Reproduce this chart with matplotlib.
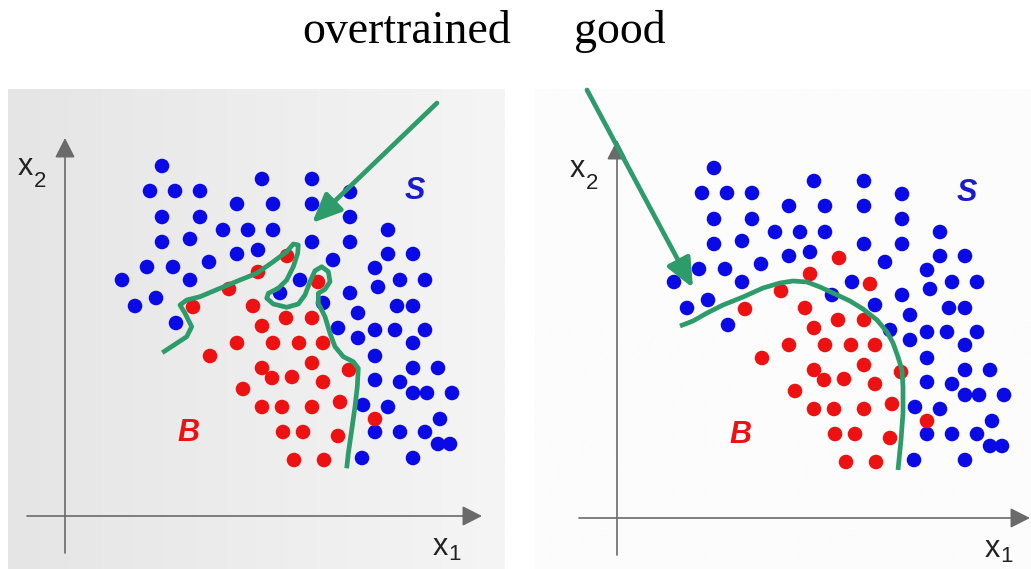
import numpy as np
import matplotlib
matplotlib.use("Agg")
import matplotlib.pyplot as plt
from matplotlib.colors import LinearSegmentedColormap

# ---- data (feature space x1, x2) ----
blue_x1 = [9.7, 19.7, 24.7, 8.5, 11.0, 13.5, 28.5, 17.2, 20.8, 24.7, 9.7, 13.5, 28.5,
           15.8, 18.3, 20.8, 32.3, 9.7, 12.5, 24.7, 28.5, 17.2, 19.3, 26.8, 32.3, 34.8,
           8.2, 10.8, 14.4, 31.0, 5.7, 12.5, 23.5, 31.3, 33.5, 36.0, 21.5, 28.5, 7.0,
           9.1, 25.8, 33.2, 34.8, 11.1, 29.3, 27.3, 31.0, 33.0, 36.0, 29.3, 34.8, 31.0,
           34.8, 37.3, 31.0, 33.5, 34.8, 36.2, 38.7, 29.8, 32.3, 37.5, 31.0, 33.5, 36.0,
           37.3, 38.5, 29.7, 34.8]
blue_x2 = [35.0, 33.7, 33.7, 32.5, 32.5, 32.5, 32.4, 31.2, 31.2, 31.2, 29.9, 29.9, 29.9,
           28.6, 28.6, 28.6, 28.6, 27.4, 27.7, 27.4, 27.4, 26.2, 26.6, 25.6, 26.2, 26.2,
           24.9, 24.9, 25.4, 24.8, 23.6, 23.6, 23.6, 22.9, 23.6, 23.6, 22.3, 22.3, 21.0,
           21.8, 21.3, 21.0, 21.0, 19.3, 20.3, 18.8, 18.6, 18.6, 18.6, 17.8, 17.3, 16.0,
           14.8, 14.8, 13.6, 13.4, 12.3, 12.3, 12.3, 11.1, 10.9, 9.7, 8.4, 8.4, 8.4,
           7.2, 7.2, 5.8, 5.8]

red_x1 = [22.2, 19.3, 25.3, 16.4, 12.8, 18.8, 22.1, 24.7, 19.7, 17.2, 20.8, 23.4, 25.8,
          14.5, 24.7, 19.7, 20.7, 22.7, 25.8, 28.4, 17.8, 19.7, 21.7, 24.7, 27.5, 31.0,
          21.8, 23.8, 27.3, 22.9, 25.9]
red_x2 = [26.0, 24.4, 23.4, 22.7, 20.9, 21.0, 19.8, 19.8, 19.0, 17.3, 17.3, 17.3, 17.3,
          16.0, 15.3, 14.8, 13.8, 13.9, 13.4, 14.6, 12.7, 10.9, 10.9, 10.9, 11.4, 9.7,
          8.4, 8.4, 8.0, 5.6, 5.6]

# wiggly boundary of the overtrained classifier
over_x1 = [9.73, 12.17, 12.67, 12.0, 11.5, 12.17, 13.5, 15.5, 17.5, 19.17, 20.83, 22.17,
           22.83, 23.33, 23.27, 22.83, 22.17, 21.33, 20.33, 20.17, 20.83, 22.17, 23.33,
           24.0, 24.5, 25.0, 25.67, 26.33, 26.5, 26.0, 25.33, 25.33, 26.0, 26.5, 27.0,
           27.83, 28.83, 29.33, 29.23, 29.0, 28.67, 28.33, 28.17]
over_x2 = [16.33, 17.93, 18.93, 20.27, 21.1, 21.6, 21.93, 22.77, 23.6, 24.27, 25.43, 26.43,
           27.2, 27.1, 26.27, 24.93, 23.6, 22.77, 22.27, 21.77, 21.2, 20.87, 21.2,
           22.1, 23.43, 24.53, 24.93, 24.43, 23.43, 22.67, 22.27, 21.27, 19.93, 18.27, 16.93,
           15.93, 15.43, 14.77, 12.93, 10.93, 8.6, 6.27, 4.77]

# smooth boundary of the well-trained classifier
good_x1 = [6.3, 7.6, 9.0, 10.6, 12.6, 14.6, 16.3, 17.6, 19.0, 20.3, 21.6, 23.3, 24.6,
           26.0, 27.0, 27.6, 28.1, 28.5, 28.6, 28.6, 28.4, 28.1]
good_x2 = [19.2, 19.7, 20.5, 21.3, 22.1, 23.0, 23.5, 23.7, 23.6, 23.1, 22.5, 21.7, 20.9,
           19.8, 18.6, 17.5, 16.1, 14.8, 13.1, 10.5, 7.8, 4.8]

# pointer arrows (tail, tip)
over_arrow = [(37.2, 41.3), (24.7, 29.3)]
good_arrow = [(-3.0, 42.8), (7.6, 23.0)]

titles = ["overtrained", "good"]

BLUE = "#0a0ae6"
RED = "#ee1111"
GREEN = "#2e9b6b"
AXIS = "#6a6a6a"
LABEL = "#222222"

W, H = 1031, 569
fig = plt.figure(figsize=(W / 100, H / 100), dpi=100)
fig.patch.set_facecolor("white")


def axis_label(ax, x, y, main, sub, sub_dx, sub_dy):
    ax.text(x, y, main, fontsize=22, family="Liberation Sans",
            ha="left", va="baseline", color=LABEL)
    ax.text(x + sub_dx, y + sub_dy, sub, fontsize=16, family="Liberation Sans",
            ha="left", va="baseline", color=LABEL)


def panel(px_left, px_right, origin, bg, boundary, arrow, x_tip):
    ox, oy = origin
    ax = fig.add_axes([px_left / W, 0, (px_right - px_left) / W, (H - 89) / H])
    xlim = ((px_left - ox) / 10, (px_right - ox) / 10)
    ylim = ((oy - H) / 10, (oy - 89) / 10)
    ax.set_xlim(*xlim)
    ax.set_ylim(*ylim)
    ax.axis("off")

    cmap = LinearSegmentedColormap.from_list("bg", bg)
    grad = np.linspace(0, 1, 256)[None, :]
    ax.imshow(grad, cmap=cmap, extent=(*xlim, *ylim), aspect="auto", zorder=0)

    # coordinate axes with arrow heads
    head = dict(arrowstyle="-|>,head_length=0.55,head_width=0.28",
                color=AXIS, lw=1.2, mutation_scale=22, shrinkA=0, shrinkB=0)
    ax.annotate("", xy=(x_tip, 0), xytext=(-3.8, 0), arrowprops=head,
                zorder=1, annotation_clip=False)
    ax.annotate("", xy=(0, 37.8), xytext=(0, -3.7), arrowprops=head, zorder=1)

    ax.scatter(blue_x1, blue_x2, s=110, color=BLUE, edgecolors="none", zorder=3)
    ax.scatter(red_x1, red_x2, s=110, color=RED, edgecolors="none", zorder=3)

    bx, by = boundary
    ax.plot(bx, by, color=GREEN, lw=3.4, solid_joinstyle="round",
            solid_capstyle="butt", zorder=4)

    (tx, ty), (hx, hy) = arrow
    ax.annotate("", xy=(hx, hy), xytext=(tx, ty),
                arrowprops=dict(arrowstyle="-|>,head_length=0.8,head_width=0.35",
                                color=GREEN, lw=3.4, mutation_scale=22,
                                shrinkA=0, shrinkB=0), zorder=5,
                annotation_clip=False)

    axis_label(ax, -4.7, 34.1, "x", "2", 1.6, -1.2)
    axis_label(ax, 36.8, -3.9, "x", "1", 1.5, -0.5)
    ax.text(35.0, 32.5, "S", fontsize=22, family="Liberation Sans",
            weight="bold", style="italic", color="#1a1ad0", ha="center", va="center")
    ax.text(12.3, 8.3, "B", fontsize=22, family="Liberation Sans",
            weight="bold", style="italic", color=RED, ha="center", va="center")
    return ax


panel(8, 505, (65, 516), ["#e5e5e5", "#f5f5f5"], (over_x1, over_x2), over_arrow, 41.7)
panel(535, 1031, (617, 518), ["#fcfcfc", "#fcfcfc"], (good_x1, good_x2), good_arrow, 41.3)

fig.text(407 / W, 1 - 43 / H, titles[0], fontsize=33, family="Liberation Serif",
         ha="center", va="baseline", color="black")
fig.text(620 / W, 1 - 43 / H, titles[1], fontsize=33, family="Liberation Serif",
         ha="center", va="baseline", color="black")

fig.savefig("out.png", dpi=100, facecolor="white")
